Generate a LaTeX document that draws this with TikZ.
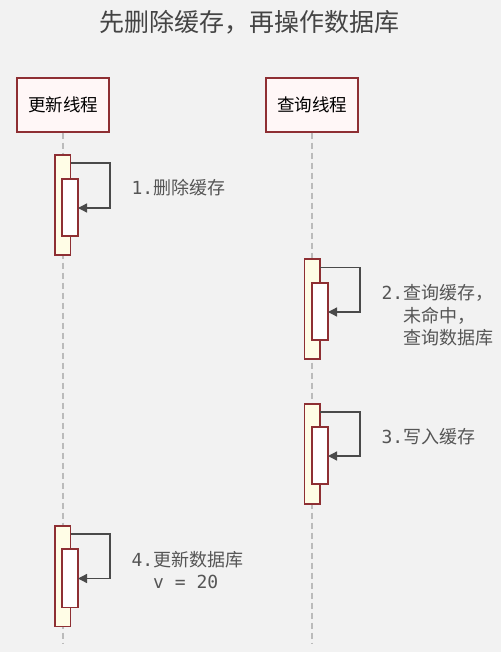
\documentclass[tikz,border=0pt]{standalone}
\usepackage{fontspec}
\setmainfont{Noto Sans CJK SC}
\newfontfamily\cjk{Noto Sans CJK SC}
\newfontfamily\monof{DejaVu Sans Mono}
\usetikzlibrary{arrows.meta}
\definecolor{bg}{HTML}{F2F2F2}
\definecolor{dred}{HTML}{8E2F33}
\definecolor{actfill}{HTML}{FFFDE6}
\definecolor{lbl}{HTML}{555555}
\definecolor{ttl}{HTML}{444444}
\definecolor{lifec}{HTML}{BBBBBB}
\definecolor{arr}{HTML}{4A4A4A}
\tikzset{
  actor/.style={draw=dred, line width=1.2pt, fill=white!97!red, minimum width=92pt, minimum height=54pt, font=\fontsize{17.5}{20}\selectfont\cjk, text=black},
  lifeline/.style={draw=lifec, line width=1.5pt, dash pattern=on 6pt off 4pt},
  outerbar/.style={draw=dred, line width=1.2pt, fill=actfill},
  innerbar/.style={draw=dred, line width=1.2pt, fill=white},
  selfmsg/.style={draw=arr, line width=1.3pt, -{Triangle[length=9pt,width=9pt]}},
  note/.style={font=\fontsize{18}{22.5}\selectfont, text=lbl, anchor=west, align=left},
}
\begin{document}
\begin{tikzpicture}[x=1pt,y=-1pt]
\fill[bg] (0,0) rectangle (501,652);
\useasboundingbox (0,0) rectangle (501,652);
\node[font=\fontsize{25}{28}\selectfont\cjk, text=ttl] (title) at (249,22) {先删除缓存，再操作数据库};
\node[actor] (A) at (63,105) {更新线程};
\node[actor] (B) at (312,105) {查询线程};
\coordinate (Aend) at (63,643);
\coordinate (Bend) at (312,643);
\draw[lifeline] (A.south) -- (Aend);
\draw[lifeline] (B.south) -- (Bend);
% activation 1
\draw[outerbar] (55,155) rectangle (70.5,255);
\draw[innerbar] (62,179) rectangle (78,236);
\coordinate (s1) at (70.5,163);
\coordinate (c1a) at (110,163);
\coordinate (c1b) at (110,208);
\coordinate (e1) at (78,208);
\draw[selfmsg] (s1) -- (c1a) -- (c1b) -- (e1);
\node[note] (n1) at (128,188) {{\monof 1.}删除缓存};
% activation 2
\draw[outerbar] (304.5,259) rectangle (320,359);
\draw[innerbar] (312,283) rectangle (328,340);
\coordinate (s2) at (320,267.5);
\coordinate (c2a) at (360,267.5);
\coordinate (c2b) at (360,312);
\coordinate (e2) at (328,312);
\draw[selfmsg] (s2) -- (c2a) -- (c2b) -- (e2);
\node[note] (n2) at (378,315.5) {{\monof 2.}查询缓存，\\\hspace*{21.7pt}未命中，\\\hspace*{21.7pt}查询数据库};
% activation 3
\draw[outerbar] (304.5,404) rectangle (320,504);
\draw[innerbar] (312,427) rectangle (328,484);
\coordinate (s3) at (320,412);
\coordinate (c3a) at (360,412);
\coordinate (c3b) at (360,456);
\coordinate (e3) at (328,456);
\draw[selfmsg] (s3) -- (c3a) -- (c3b) -- (e3);
\node[note] (n3) at (378,436.5) {{\monof 3.}写入缓存};
% activation 4
\draw[outerbar] (55,526) rectangle (70.5,626.5);
\draw[innerbar] (62,549) rectangle (78,607.5);
\coordinate (s4) at (70.5,534);
\coordinate (c4a) at (110,534);
\coordinate (c4b) at (110,578.5);
\coordinate (e4) at (78,578.5);
\draw[selfmsg] (s4) -- (c4a) -- (c4b) -- (e4);
\node[note] (n4) at (128,570) {{\monof 4.}更新数据库\\\hspace*{21.7pt}{\monof v = 20}};
\end{tikzpicture}
\end{document}
